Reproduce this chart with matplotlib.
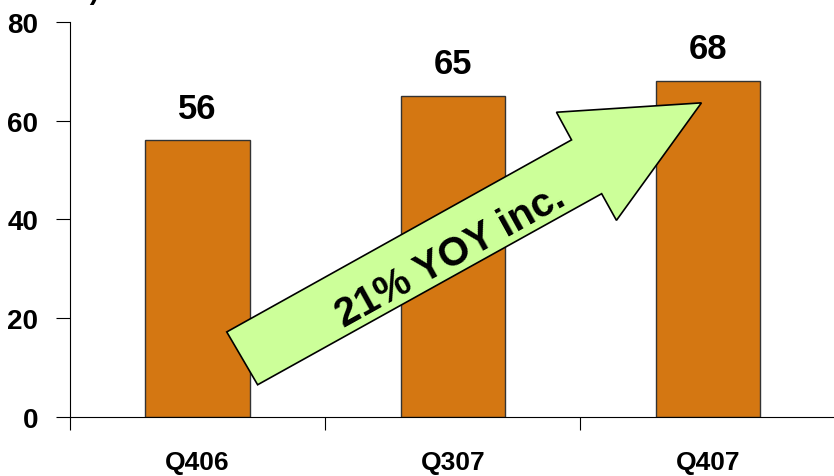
import matplotlib.pyplot as plt
from matplotlib.patches import Polygon

quarters = ['Q406', 'Q307', 'Q407']
values = [56, 65, 68]
yticks = [0, 20, 40, 60, 80]
arrow_label = '21% YOY inc.'
unit_label = '(millions)'

plt.rcParams['font.family'] = ['Liberation Sans', 'DejaVu Sans']
plt.rcParams['font.weight'] = 'bold'

fig = plt.figure(figsize=(8.34, 4.77), dpi=100)
ax = fig.add_axes([0.084, 0.124, 0.918, 0.828])

x = range(len(quarters))
ax.bar(x, values, width=0.41, color='#D47712', edgecolor='#333333', linewidth=1)
for xi, v in zip(x, values):
    ax.text(xi, v + 3.2, str(v), ha='center', va='bottom', fontsize=25, fontweight='bold')

ax.set_xlim(-0.5, 2.5)
ax.set_ylim(0, 80)
ax.set_yticks(yticks)
ax.set_xticks([-0.5, 0.5, 1.5])
ax.set_xticklabels([])
ax.set_xticks(list(x), minor=True)
ax.set_xticklabels(quarters, minor=True)
ax.tick_params(axis='x', which='minor', length=0, pad=24, labelsize=19)
ax.tick_params(axis='x', which='major', length=9, direction='out')
ax.tick_params(axis='y', length=10, direction='out', labelsize=20, pad=13)
ax.spines['top'].set_visible(False)
ax.spines['right'].set_visible(False)

# big green arrow
arrow_pts = [(0.114, 17.2), (0.235, 6.5), (1.583, 45.2), (1.641, 39.8),
             (1.974, 63.6), (1.406, 61.7), (1.465, 56.1)]
ax.add_patch(Polygon(arrow_pts, closed=True, facecolor='#CCFF99', edgecolor='black',
                     linewidth=1.2, zorder=3))
ax.text(0.99, 32.6, arrow_label, rotation=29, ha='center', va='center', fontsize=29,
        fontweight='bold', zorder=4, rotation_mode='anchor')

fig.text(0.12, 1.002, unit_label, ha='right', va='baseline', fontsize=20, fontweight='bold')

fig.savefig('out.png', dpi=100)
